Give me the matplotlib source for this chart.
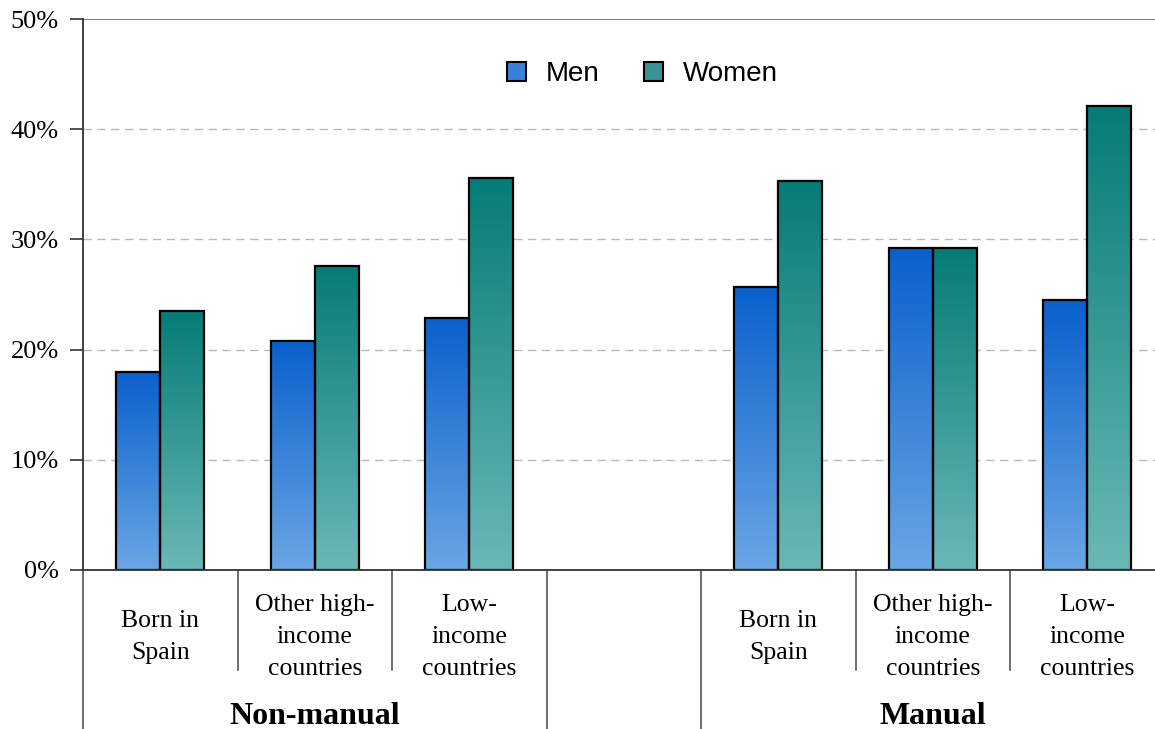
#!/usr/bin/env python3
"""
Grouped bar chart: share by origin, sex and occupation type (Non-manual / Manual).
"""

import numpy as np
import matplotlib.pyplot as plt
from matplotlib.colors import LinearSegmentedColormap
from matplotlib.patches import Rectangle

# --- data ---
categories = ["Born in\nSpain", "Other high-\nincome\ncountries", "Low-\nincome\ncountries"]
groups = ["Non-manual", "Manual"]
series = ["Men", "Women"]
men_nonmanual = [18.0, 20.8, 22.9]
women_nonmanual = [23.5, 27.6, 35.6]
men_manual = [25.7, 29.2, 24.5]
women_manual = [35.3, 29.2, 42.1]
yticks = [0, 10, 20, 30, 40, 50]

SERIF = "Liberation Serif"
SANS = "Liberation Sans"

# gradient colours (bottom, top)
men_cmap = LinearSegmentedColormap.from_list("men", ["#6aa6e4", "#0a60cc"])
women_cmap = LinearSegmentedColormap.from_list("women", ["#6ab8b6", "#067c76"])


def gradient_bar(ax, x0, width, height, cmap):
    """Draw one bar filled with a vertical gradient and a black edge."""
    grad = np.linspace(0, 1, 256).reshape(-1, 1)
    ax.imshow(grad, cmap=cmap, origin="lower", aspect="auto",
              extent=(x0, x0 + width, 0, height), zorder=2, interpolation="bilinear")
    ax.add_patch(Rectangle((x0, 0), width, height, facecolor="none",
                           edgecolor="black", linewidth=1.6, zorder=3))


def main():
    fig = plt.figure(figsize=(11.55, 7.29), dpi=100)
    ax = fig.add_axes([83 / 1155, 159 / 729, 1081.5 / 1155, 551 / 729])

    # slots: 3 non-manual, one empty gap, 3 manual
    men = men_nonmanual + [None] + men_manual
    women = women_nonmanual + [None] + women_manual
    bw = 0.285
    for i, (m, w) in enumerate(zip(men, women)):
        if m is None:
            continue
        c = i + 0.5
        gradient_bar(ax, c - bw, bw, m, men_cmap)
        gradient_bar(ax, c, bw, w, women_cmap)

    ax.set_xlim(0, 7)
    ax.set_ylim(0, 50)

    # gridlines
    for y in yticks[1:-1]:
        ax.axhline(y, color="#b8b8b8", linestyle=(0, (6, 4)), linewidth=1, zorder=1)
    ax.axhline(50, color="#808080", linewidth=1.5, zorder=1)

    for side in ["top", "right", "bottom"]:
        ax.spines[side].set_visible(False)
    ax.spines["left"].set_color("#333333")
    ax.spines["left"].set_linewidth(1.3)
    ax.axhline(0, color="#333333", linewidth=1.3, zorder=4, clip_on=False)

    ax.set_yticks(yticks)
    ax.set_yticklabels([f"{v}%" for v in yticks], fontfamily=SERIF, fontsize=19)
    ax.tick_params(axis="y", length=9.5, width=1.2, color="#333333", pad=8)
    ax.set_xticks([])

    # separators and labels below the axis
    tr = ax.get_xaxis_transform()
    px = 1 / 551
    for xb in range(8):
        long_line = xb in (0, 3, 4, 7)
        y_end = -160 * px if long_line else -100 * px
        ax.plot([xb, xb], [0, y_end], transform=tr, color="#555555",
                linewidth=1.2, clip_on=False)

    for i, lab in enumerate(categories + [""] + categories):
        if lab:
            ax.text(i + 0.5, -67 * px, lab, transform=tr, ha="center", va="center",
                    fontfamily=SERIF, fontsize=18.5, linespacing=1.6)

    ax.text(1.5, -146 * px, groups[0], transform=tr, ha="center", va="center",
            fontfamily=SERIF, fontsize=23, fontweight="bold")
    ax.text(5.5, -146 * px, groups[1], transform=tr, ha="center", va="center",
            fontfamily=SERIF, fontsize=23, fontweight="bold")

    # legend
    handles = [Rectangle((0, 0), 1, 1, facecolor="#3a80d8", edgecolor="black", linewidth=1.5),
               Rectangle((0, 0), 1, 1, facecolor="#37948f", edgecolor="black", linewidth=1.5)]
    ax.legend(handles, series, loc="center", bbox_to_anchor=(0.517, 1 - 55 / 551),
              ncol=2, frameon=False, prop={"family": SANS, "size": 20},
              handlelength=0.7, handleheight=0.7, handletextpad=0.7, columnspacing=1.6)

    fig.savefig("out.png", dpi=100)


if __name__ == "__main__":
    main()
